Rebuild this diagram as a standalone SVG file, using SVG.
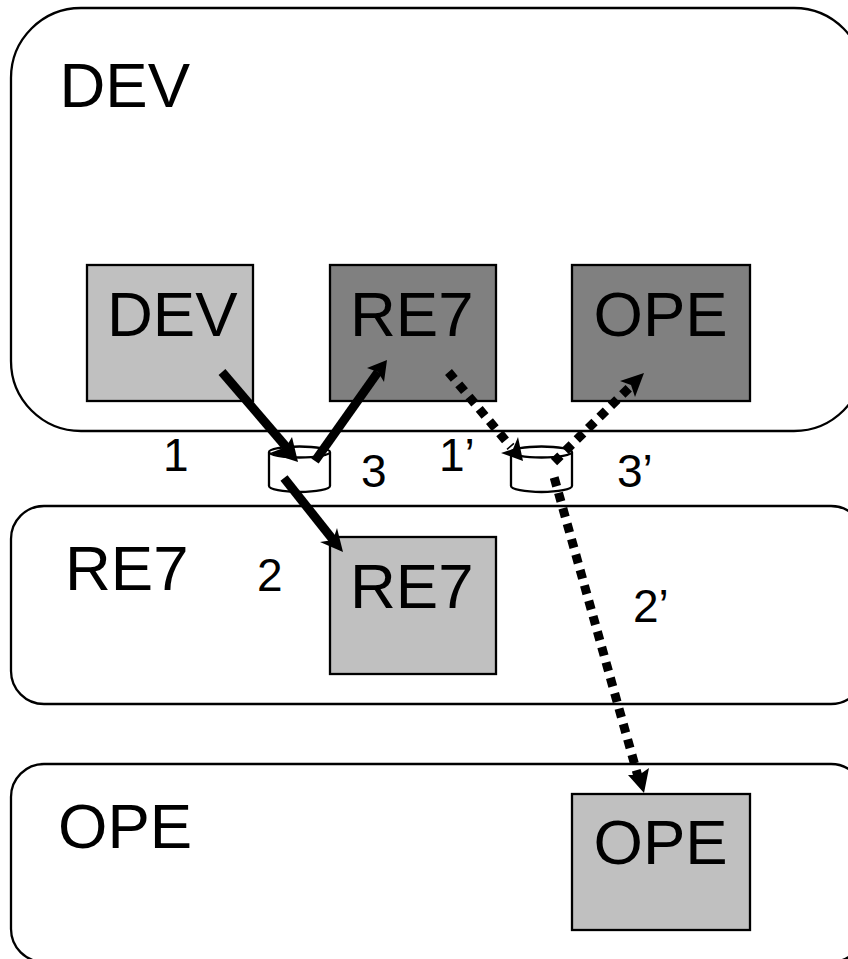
<svg xmlns="http://www.w3.org/2000/svg" width="848" height="959" viewBox="0 0 848 959">
<style>
text{font-family:"Liberation Sans",Arial,sans-serif;fill:#000}
.zone{fill:#fff;stroke:#000;stroke-width:2.300}
.box{stroke:#000;stroke-width:2.300}
.big{font-size:63.500px}
.num{font-size:46px}
.lt{fill:#c0c0c0}
.dk{fill:#808080}
.can{fill:#fff;stroke:#000;stroke-width:2.300}
.solid{fill:none;stroke:#000;stroke-width:9}
.dot{fill:none;stroke:#000;stroke-width:9;stroke-dasharray:9 7}
.head{fill:#000}
</style>
<g id="zone-dev"><rect class="zone" x="11" y="8" width="853" height="423" rx="70" ry="70"/><text class="big" x="59.500" y="107">DEV</text></g>
<g id="zone-re7"><rect class="zone" x="11" y="506" width="853" height="198" rx="33" ry="33"/><text class="big" x="65" y="590">RE7</text></g>
<g id="zone-ope"><rect class="zone" x="11" y="764" width="853" height="198" rx="33" ry="33"/><text class="big" x="58" y="848">OPE</text></g>
<g id="node-dev"><rect class="box lt" x="87" y="265" width="166" height="136"/><text class="big" x="107" y="336">DEV</text></g>
<g id="node-re7-dev"><rect class="box dk" x="330" y="265" width="166" height="136"/><text class="big" x="350" y="336">RE7</text></g>
<g id="node-ope-dev"><rect class="box dk" x="572" y="265" width="178" height="136"/><text class="big" x="593.500" y="336">OPE</text></g>
<g id="node-re7"><rect class="box lt" x="330" y="537" width="166" height="137"/><text class="big" x="350" y="608">RE7</text></g>
<g id="node-ope"><rect class="box lt" x="572" y="794" width="178" height="136"/><text class="big" x="593.500" y="864">OPE</text></g>
<g id="can-1"><path class="can" d="M269 452V486A30.5 6 0 0 0 330 486V452A30.5 5.5 0 0 0 269 452A30.5 5.5 0 0 0 330 452"/></g>
<g id="can-2"><path class="can" d="M511 452V486A30.5 6 0 0 0 572 486V452A30.5 5.5 0 0 0 511 452A30.5 5.5 0 0 0 572 452"/></g>
<g id="labels">
<text class="num" x="163" y="471">1</text>
<text class="num" x="361" y="487">3</text>
<text class="num" x="439" y="471">1’</text>
<text class="num" x="617" y="487">3’</text>
<text class="num" x="257" y="591">2</text>
<text class="num" x="633" y="622">2’</text>
</g>
<g id="connectors">
<path class="solid" d="M222 372L288 449"/><path class="head" d="M298 462L270 453L286 447L292 437Z"/>
<path class="solid" d="M315 461L378 372"/><path class="head" d="M387 360L384 382L378 372L367 368Z"/>
<path class="solid" d="M284 478L334 541"/><path class="head" d="M343 552L320 542L333 540L337 528Z"/>
<path class="dot" d="M448.500 372L511 447"/><path class="head" d="M523 461L501 453L513 449L518 437Z"/>
<path class="dot" d="M554 462L634 383"/><path class="head" d="M644 373L635 397L631 385L620 381Z"/>
<path class="dot" d="M554.200 477.500L639 780"/><path class="head" d="M644 793L628 775L639 775L649 768Z"/>
</g>
</svg>
